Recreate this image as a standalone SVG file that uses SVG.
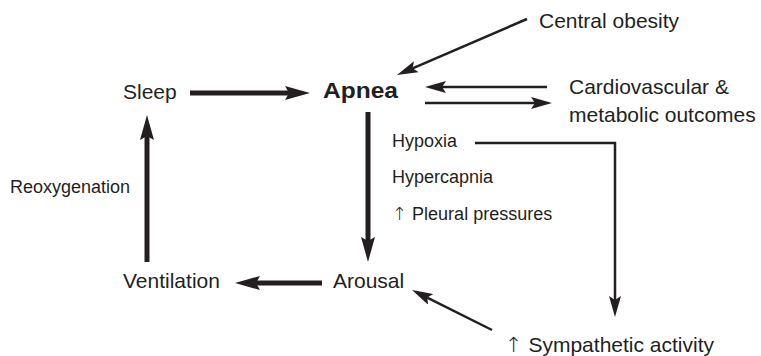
<svg xmlns="http://www.w3.org/2000/svg" width="761" height="356" viewBox="0 0 761 356">
<style>
text{font-family:"Liberation Sans",Arial,sans-serif;fill:#231f20}
.l{font-size:21px}
.s{font-size:18px}
.b{font-size:22px;font-weight:bold}
.arr{font-family:"DejaVu Sans",sans-serif;font-weight:200}
.thick{stroke:#231f20;stroke-width:5;fill:none;marker-end:url(#bigHead)}
.thin{stroke:#231f20;stroke-width:2.5;fill:none;marker-end:url(#smallHead)}
</style>
<defs>
<marker id="bigHead" markerUnits="userSpaceOnUse" viewBox="0 0 25 14" refX="4" refY="7" markerWidth="25" markerHeight="14" orient="auto">
<path d="M0,0 L25,7 L0,14 L4,7 z" fill="#231f20"/>
</marker>
<marker id="smallHead" markerUnits="userSpaceOnUse" viewBox="0 0 21 12" refX="4" refY="6" markerWidth="21" markerHeight="12" orient="auto">
<path d="M0,0 L21,6 L0,12 L4,6 z" fill="#231f20"/>
</marker>
</defs>
<rect width="761" height="356" fill="#fff"/>
<g id="connectors">
<line class="thick" x1="190" y1="93" x2="289" y2="93"/>
<line class="thick" x1="368" y1="112" x2="368" y2="241"/>
<line class="thick" x1="322" y1="283" x2="256" y2="283"/>
<line class="thick" x1="147" y1="262" x2="147" y2="136"/>
<line class="thin" x1="527" y1="19" x2="412.6" y2="68.3"/>
<line class="thin" x1="547" y1="87" x2="442" y2="87"/>
<line class="thin" x1="425" y1="103" x2="535" y2="103"/>
<polyline class="thin" points="475,143 615,143 615,300"/>
<line class="thin" x1="492" y1="330" x2="427.2" y2="297.6"/>
</g>
<g id="sleep"><text class="l" x="123" y="99">Sleep</text></g>
<g id="apnea"><text class="b" x="323" y="98" textLength="75" lengthAdjust="spacingAndGlyphs">Apnea</text></g>
<g id="central-obesity"><text class="l" x="539" y="28">Central obesity</text></g>
<g id="outcomes"><text class="l" x="569" y="94">Cardiovascular &amp;</text><text class="l" x="569" y="122">metabolic outcomes</text></g>
<g id="stimuli"><text class="s" x="392" y="147">Hypoxia</text><text class="s" x="392" y="183">Hypercapnia</text><text class="s" x="392" y="220"><tspan class="arr">↑</tspan> Pleural pressures</text></g>
<g id="reoxygenation"><text class="s" x="10" y="193">Reoxygenation</text></g>
<g id="ventilation"><text class="l" x="123" y="288">Ventilation</text></g>
<g id="arousal"><text class="l" x="333" y="288">Arousal</text></g>
<g id="sympathetic"><text class="l" x="505" y="352"><tspan class="arr">↑</tspan> Sympathetic activity</text></g>
</svg>
